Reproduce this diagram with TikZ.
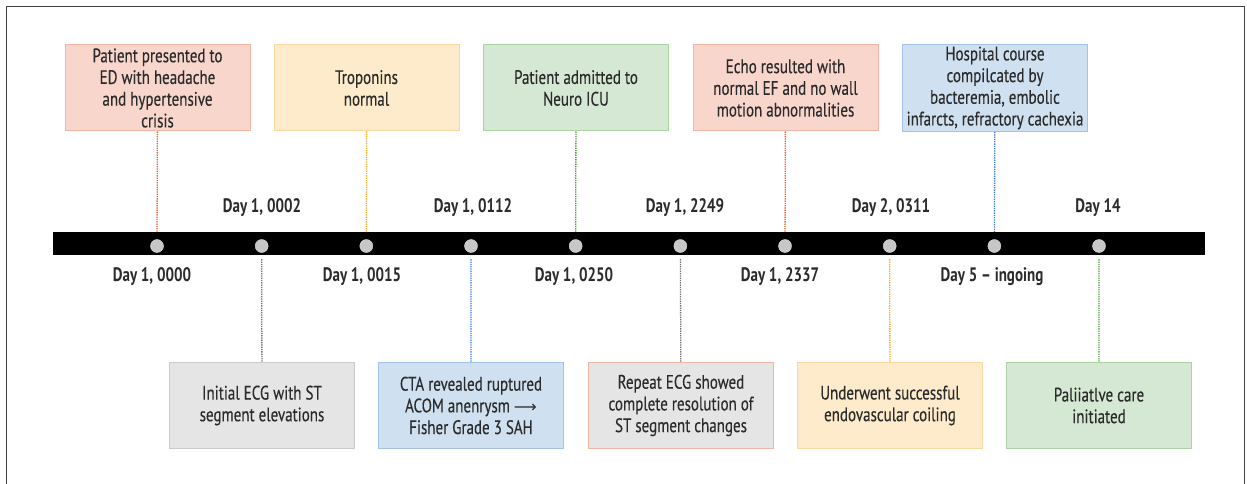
\documentclass[tikz,border=0pt]{standalone}
\usepackage{fontspec}
\setmainfont{PT Sans}[FakeStretch=0.77,FakeBold=0.25,BoldFeatures={FakeBold=0}]
\newfontfamily\arrowfont{DejaVu Sans}
\usepackage{tikz}

\definecolor{salfill}{HTML}{F8D6CC}
\definecolor{salline}{HTML}{F2B5A5}
\definecolor{saldot}{HTML}{E8602C}
\definecolor{yelfill}{HTML}{FDEBCB}
\definecolor{yelline}{HTML}{FAD6A0}
\definecolor{yeldot}{HTML}{F5A623}
\definecolor{grnfill}{HTML}{D5E8D4}
\definecolor{grnline}{HTML}{ABD4A3}
\definecolor{grndot}{HTML}{4E9A3C}
\definecolor{blufill}{HTML}{CFE0F0}
\definecolor{bluline}{HTML}{A3C4E8}
\definecolor{bludot}{HTML}{3A78D8}
\definecolor{gryfill}{HTML}{E5E5E5}
\definecolor{gryline}{HTML}{CBCBCB}
\definecolor{grydot}{HTML}{707070}
\definecolor{txt}{HTML}{2B2B2B}

\begin{document}
\begin{tikzpicture}[x=1pt,y=-1pt,
  box/.style={draw=#1line,fill=#1fill,line width=1pt,minimum width=185,minimum height=86,
    inner sep=2pt,align=center,text=txt,font=\fontsize{19.5}{21.7}\selectfont},
  link/.style={#1dot,densely dotted,line width=1.3pt},
  day/.style={text=txt,font=\bfseries\fontsize{19.5}{20}\selectfont}]
\useasboundingbox (0,0) rectangle (1247,484);
\draw[black!75,line width=1pt] (6,484) -- (6,7) -- (1244,7) -- (1244,484);

% timeline
\node [fill=black,minimum width=1152,minimum height=23,inner sep=0] (bar) at (629,243.5) {};
\foreach \i in {0,...,9}
  \node [circle,fill=black!22,draw=black!12,minimum size=13,inner sep=0] (d\i) at (157+104.67*\i,246) {};

% events above
\node [box=sal] (a) at (157.5,88) {Patient presented to\\ED with headache\\and hypertensive\\crisis};
\node [box=yel] (b) at (366.5,88) {Troponins\\normal};
\node [box=grn] (c) at (576,88) {Patient admitted to\\Neuro ICU};
\node [box=sal] (d) at (785.5,88) {Echo resulted with\\normal EF and no wall\\motion abnormalities};
\node [box=blu] (e) at (995,88) {Hospital course\\compilcated by\\bacteremia, embolic\\infarcts, refractory cachexia};

% events below
\node [box=gry] (f) at (262,405.5) {Initial ECG with ST\\segment elevations};
\node [box=blu] (g) at (471,405.5) {CTA revealed ruptured\\ACOM anenrysm {\arrowfont\fontsize{16}{16}\selectfont ⟶}\\Fisher Grade 3 SAH};
\node [box=gry,draw=salline] (h) at (681,405.5) {Repeat ECG showed\\complete resolution of\\ST segment changes};
\node [box=yel] (i) at (890,405.5) {Underwent successful\\endovascular coiling};
\node [box=grn] (j) at (1099,405.5) {Paliiatlve care\\initiated};

\draw [link=sal,shorten >=7.5] (a) -- (d0);
\draw [link=yel,shorten >=7.5] (b) -- (d2);
\draw [link=grn,shorten >=7.5] (c) -- (d4);
\draw [link=sal,shorten >=7.5] (d) -- (d6);
\draw [link=blu,shorten >=7.5] (e) -- (d8);
\draw [link=gry,shorten <=6.5] (d1) -- (f);
\draw [link=blu,shorten <=6.5] (d3) -- (g);
\draw [link=gry,shorten <=6.5] (d5) -- (h);
\draw [link=yel,shorten <=6.5] (d7) -- (i);
\draw [link=grn,shorten <=6.5] (d9) -- (j);

% dates
\node [day] (t1) at (262,208) {Day 1, 0002};
\node [day] (t3) at (473,208) {Day 1, 0112};
\node [day] (t5) at (685,208) {Day 1, 2249};
\node [day] (t7) at (891,208) {Day 2, 0311};
\node [day] (t9) at (1098,208) {Day 14};
\node [day] (t0) at (152,277) {Day 1, 0000};
\node [day] (t2) at (362,277) {Day 1, 0015};
\node [day] (t4) at (574,277) {Day 1, 0250};
\node [day] (t6) at (780,277) {Day 1, 2337};
\node [day] (t8) at (992,277) {Day 5 -- ingoing};
\end{tikzpicture}
\end{document}
